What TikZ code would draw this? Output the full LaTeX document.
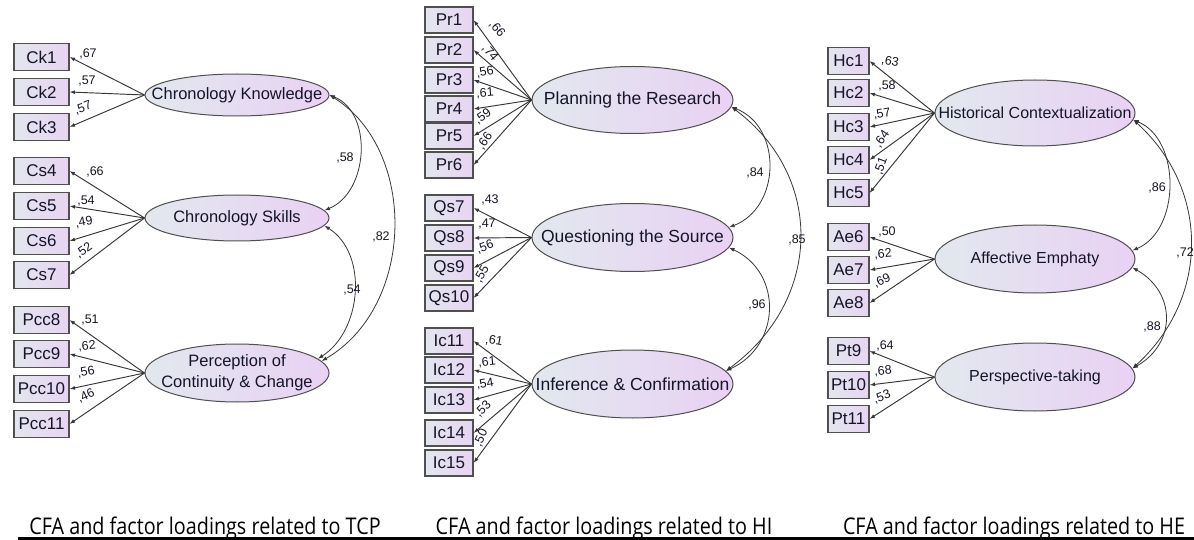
\documentclass[tikz,border=0pt]{standalone}
\usepackage{fontspec}
\setmainfont{Liberation Sans}
\newfontfamily\capfont[FakeStretch=0.86]{Open Sans}
\usetikzlibrary{shapes.geometric,arrows.meta}
\definecolor{shl}{HTML}{E2E8EE}
\definecolor{shr}{HTML}{E9D1F4}
\definecolor{obl}{HTML}{E3E6EE}
\definecolor{obr}{HTML}{E8D4F2}
\definecolor{edgec}{HTML}{505050}
\definecolor{linec}{HTML}{383838}
\definecolor{txt}{HTML}{15152A}
\tikzset{
  lat/.style={ellipse, draw=edgec, line width=1pt, left color=shl, right color=shr, inner sep=0pt},
  obs/.style={rectangle, draw=edgec, line width=1.1pt, left color=obl, right color=obr, inner sep=0pt, minimum height=27, text=txt, font=\fontsize{17}{18}\selectfont},
  lattxt/.style={text=txt, align=center, inner sep=0pt},
  ld/.style={draw=linec, line width=0.95pt, -{Latex[length=5.5pt,width=4pt]}},
  cv/.style={draw=linec, line width=0.8pt, {Latex[length=5.5pt,width=4pt]}-{Latex[length=5.5pt,width=4pt]}},
  lbl/.style={font=\fontsize{12.5}{13}\selectfont, text=txt, inner sep=0pt},
  captext/.style={font=\capfont\fontsize{23}{25}\selectfont, anchor=base, inner sep=0pt}
}
\begin{document}
\begin{tikzpicture}[x=1pt,y=-1pt]
\useasboundingbox[fill=white] (0,0) rectangle (1194,540);

% ---------------- Left panel (TCP) ----------------
\node[lat, minimum width=184, minimum height=42] (ck) at (237,95) {};
\node[lattxt, font=\fontsize{16.5}{18}\selectfont] (ckt) at (ck) {Chronology Knowledge};
\node[lat, minimum width=184, minimum height=46] (cs) at (237,218) {};
\node[lattxt, font=\fontsize{16.5}{18}\selectfont] (cst) at (cs) {Chronology Skills};
\node[lat, minimum width=184, minimum height=58] (pcc) at (237,373) {};
\node[lattxt, font=\fontsize{16.5}{21}\selectfont] (pcct) at (pcc) {Perception of\\Continuity \& Change};

\foreach \n/\t/\y in {ck1/Ck1/57, ck2/Ck2/92, ck3/Ck3/127, cs4/Cs4/171, cs5/Cs5/206, cs6/Cs6/241, cs7/Cs7/275, pcc8/Pcc8/320, pcc9/Pcc9/354, pcc10/Pcc10/389, pcc11/Pcc11/424}
  \node[obs, minimum width=55] (\n) at (41.5,\y) {\t};

\foreach \b in {ck1,ck2,ck3} \draw[ld] (ck.west) -- (\b.east);
\foreach \b in {cs4,cs5,cs6,cs7} \draw[ld] (cs.west) -- (\b.east);
\foreach \b in {pcc8,pcc9,pcc10,pcc11} \draw[ld] (pcc.west) -- (\b.east);

\node[lbl] (l1) at (88,54) {,67};
\node[lbl] (l2) at (87,81) {,57};
\node[lbl, rotate=20] (l3) at (83,108) {,57};
\node[lbl] (l4) at (95,172) {,66};
\node[lbl] (l5) at (86,201) {,54};
\node[lbl, rotate=10] (l6) at (84,222) {,49};
\node[lbl, rotate=35] (l7) at (84,251) {,52};
\node[lbl] (l8) at (90,320) {,51};
\node[lbl, rotate=5] (l9) at (87,346) {,62};
\node[lbl, rotate=10] (l10) at (86,372) {,56};
\node[lbl, rotate=25] (l11) at (86,396) {,46};

\draw[cv] (ck.east) .. controls +(44,18) and +(44,-18) .. (cs.5);
\draw[cv] (ck.east) .. controls +(88,55) and +(94,-55) .. (pcc.8);
\draw[cv] (cs.-5) .. controls +(44,28) and +(44,-28) .. (pcc.10);
\node[lbl] (c1) at (345,158) {,58};
\node[lbl] (c2) at (381,237) {,82};
\node[lbl] (c3) at (352,290) {,54};

% ---------------- Middle panel (HI) ----------------
\node[lat, minimum width=201, minimum height=67] (pl) at (632.5,100) {};
\node[lattxt, font=\fontsize{17.5}{19}\selectfont] (plt) at (pl) {Planning the Research};
\node[lat, minimum width=201, minimum height=68] (qs) at (632.5,237.5) {};
\node[lattxt, font=\fontsize{17.5}{19}\selectfont] (qst) at (qs) {Questioning the Source};
\node[lat, minimum width=201, minimum height=68] (ic) at (632.5,384) {};
\node[lattxt, font=\fontsize{17.5}{19}\selectfont] (ict) at (ic) {Inference \& Confirmation};

\foreach \n/\t/\y in {pr1/Pr1/20, pr2/Pr2/50, pr3/Pr3/80, pr4/Pr4/109, pr5/Pr5/136, pr6/Pr6/165, qs7/Qs7/208, qs8/Qs8/238, qs9/Qs9/268, qs10/Qs10/298, ic11/Ic11/341, ic12/Ic12/370, ic13/Ic13/400, ic14/Ic14/433, ic15/Ic15/463}
  \node[obs, minimum width=48, minimum height=26] (\n) at (449,\y) {\t};

\foreach \b in {pr1,pr2,pr3,pr4,pr5,pr6} \draw[ld] (pl.west) -- (\b.east);
\foreach \b in {qs7,qs8,qs9,qs10} \draw[ld] (qs.west) -- (\b.east);
\foreach \b in {ic11,ic12,ic13,ic14,ic15} \draw[ld] (ic.west) -- (\b.east);

\node[lbl, rotate=-50] (m1) at (497,29) {,66};
\node[lbl, rotate=-50] (m2) at (490,53) {,74};
\node[lbl, rotate=10] (m3) at (485,72) {,56};
\node[lbl, rotate=5] (m4) at (485,93) {,61};
\node[lbl, rotate=35] (m5) at (483,117) {,59};
\node[lbl, rotate=55] (m6) at (485,141) {,66};
\node[lbl] (m7) at (490,200) {,43};
\node[lbl] (m8) at (487,224) {,47};
\node[lbl, rotate=20] (m9) at (485,247) {,56};
\node[lbl, rotate=60] (m10) at (482,274) {,55};
\node[lbl, rotate=-10] (m11) at (494,341) {,61};
\node[lbl, rotate=5] (m12) at (487,362) {,61};
\node[lbl, rotate=10] (m13) at (485,384) {,54};
\node[lbl, rotate=45] (m14) at (483,409) {,53};
\node[lbl, rotate=65] (m15) at (481,438) {,50};

\draw[cv] (pl.-4) .. controls +(51,20) and +(52,-20) .. (qs.6);
\draw[cv] (pl.-4) .. controls +(94,70) and +(96,-70) .. (ic.8);
\draw[cv] (qs.-6) .. controls +(54,25) and +(55,-25) .. (ic.8);
\node[lbl] (c4) at (755,173) {,84};
\node[lbl] (c5) at (797,240) {,85};
\node[lbl] (c6) at (757,305) {,96};

% ---------------- Right panel (HE) ----------------
\node[lat, minimum width=200, minimum height=66] (hc) at (1035,113) {};
\node[lattxt, font=\fontsize{16}{18}\selectfont] (hct) at (hc) {Historical Contextualization};
\node[lat, minimum width=200, minimum height=68] (ae) at (1035,259) {};
\node[lattxt, font=\fontsize{16}{18}\selectfont] (aet) at (ae) {Affective Emphaty};
\node[lat, minimum width=200, minimum height=68] (pt) at (1035,377) {};
\node[lattxt, font=\fontsize{16}{18}\selectfont] (ptt) at (pt) {Perspective-taking};

\foreach \n/\t/\y in {hc1/Hc1/61, hc2/Hc2/93, hc3/Hc3/127, hc4/Hc4/160, hc5/Hc5/193, ae6/Ae6/237, ae7/Ae7/270, ae8/Ae8/303, pt9/Pt9/351, pt10/Pt10/385, pt11/Pt11/419}
  \node[obs, minimum width=41] (\n) at (848.5,\y) {\t};

\foreach \b in {hc1,hc2,hc3,hc4,hc5} \draw[ld] (hc.west) -- (\b.east);
\foreach \b in {ae6,ae7,ae8} \draw[ld] (ae.west) -- (\b.east);
\foreach \b in {pt9,pt10,pt11} \draw[ld] (pt.west) -- (\b.east);

\node[lbl, rotate=-10] (r1) at (890,62) {,63};
\node[lbl] (r2) at (887,86) {,58};
\node[lbl, rotate=10] (r3) at (882,114) {,57};
\node[lbl, rotate=55] (r4) at (882,139) {,64};
\node[lbl, rotate=70] (r5) at (881,166) {,51};
\node[lbl] (r6) at (887,232) {,50};
\node[lbl, rotate=5] (r7) at (883,254) {,62};
\node[lbl, rotate=25] (r8) at (882,281) {,69};
\node[lbl] (r9) at (885,346) {,64};
\node[lbl, rotate=5] (r10) at (883,371) {,68};
\node[lbl, rotate=20] (r11) at (882,397) {,53};

\draw[cv] (hc.-4) .. controls +(48,20) and +(48,-20) .. (ae.5);
\draw[cv] (hc.-4) .. controls +(77,70) and +(77,-70) .. (pt.5);
\draw[cv] (ae.-5) .. controls +(44,25) and +(44,-25) .. (pt.5);
\node[lbl] (c7) at (1157,188) {,86};
\node[lbl] (c8) at (1185,253) {,72};
\node[lbl] (c9) at (1152,327) {,88};

% ---------------- Captions ----------------
\node[captext] (cap1) at (205,534) {CFA and factor loadings related to TCP};
\node[captext] (cap2) at (604,534) {CFA and factor loadings related to HI};
\node[captext] (cap3) at (1014,534) {CFA and factor loadings related to HE};
\draw[line width=2.5pt] (18,538.5) -- (1194,538.5);
\end{tikzpicture}
\end{document}
